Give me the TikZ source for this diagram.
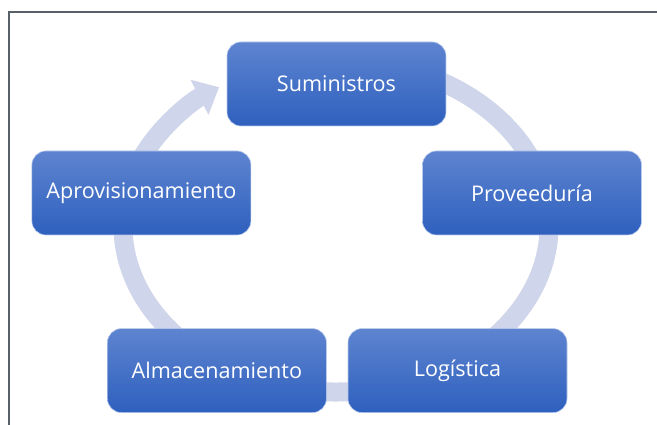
\documentclass[tikz,border=0pt]{standalone}
\usepackage{fontspec}
\setmainfont{Open Sans}
\usepackage{tikz}
\usetikzlibrary{positioning,arrows.meta,calc}

\definecolor{cajaarriba}{RGB}{94,132,208}
\definecolor{cajaabajo}{RGB}{46,96,190}
\definecolor{anillo}{RGB}{207,213,234}
\definecolor{marco}{RGB}{88,96,106}

\tikzset{
  caja/.style={rounded corners=14pt, minimum width=219pt, minimum height=84pt,
    top color=cajaarriba, bottom color=cajaabajo, draw=cajaarriba!45!white,
    line width=0.6pt, text=white, font=\fontsize{21.6}{25}\selectfont, inner sep=0pt},
  ciclo/.style={anillo, line width=19pt, -{Triangle[width=38pt,length=22pt]}}
}

\begin{document}
\begin{tikzpicture}[x=1pt,y=1pt]
    \useasboundingbox (0,0) rectangle (657,425);
    \draw[marco, line width=2pt] (8.5,0) |- (657,413);
    \coordinate (centro) at (336,199);
    \draw[ciclo] ($(centro)+(60:213 and 166)$)
        arc[start angle=60, end angle=-236.7, x radius=213, y radius=166];
    \node[caja] (sum) at (336.5,341) {Suministros};
    \node[caja] (prov) at (532,232) {Proveeduría};
    \node[caja, left=171pt of prov] (apro) {Aprovisionamiento};
    \node[caja, below=93pt of prov, xshift=-74.5pt] (logi) {Logística};
    \node[caja, left=21pt of logi] (alma) {Almacenamiento};
\end{tikzpicture}
\end{document}
